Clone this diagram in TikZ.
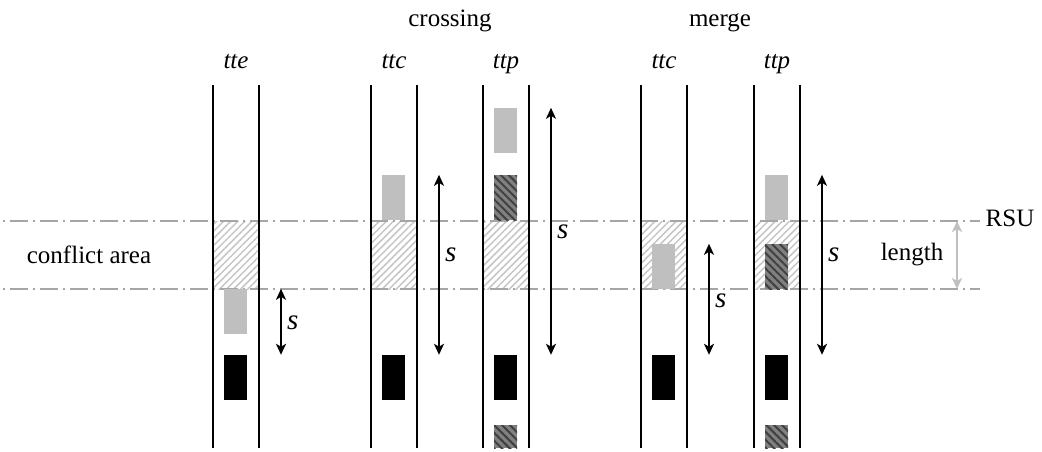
\documentclass[tikz,border=0pt]{standalone}
\usepackage{fontspec}
\setmainfont{Liberation Serif}
\usetikzlibrary{patterns.meta,arrows.meta}

\tikzset{
  txt/.style={font=\fontsize{25}{30}\selectfont, inner sep=0pt},
  slbl/.style={font=\fontsize{29}{34}\selectfont\itshape, inner sep=0pt, anchor=west},
  lane/.style={line width=2pt, black},
  refline/.style={line width=2pt, gray!70, dash pattern=on 18pt off 5pt on 2pt off 5pt, dash phase=20pt},
  zone/.style={pattern={Lines[angle=45,distance=5pt,line width=1.5pt]}, pattern color=gray!45},
  car/.style={rectangle, inner sep=0pt, minimum width=23pt, minimum height=45pt, draw=none},
  lightcar/.style={car, fill=gray!50},
  blackcar/.style={car, fill=black},
  darkcar/.style={car, preaction={fill=gray}, pattern={Lines[angle=-45,distance=5.5pt,line width=2pt]}, pattern color=black!75},
  stub/.style={darkcar, minimum height=23pt},
  gap/.style={<->, line width=2pt, >={Stealth[length=11pt,width=10pt,inset=3pt]}},
  lengap/.style={gap, gray!50},
}

\begin{document}
\begin{tikzpicture}[x=1pt,y=-1pt]
\useasboundingbox (0,0) rectangle (1042,452);

% conflict area hatching in every lane
\foreach \c in {236,394,506,664,777}
  \fill[zone] (\c-22,221) rectangle (\c+22,289);

% RSU reference lines bounding the conflict area
\draw[refline] (0,221) -- (980,221);
\draw[refline] (0,289) -- (980,289);

% lane borders
\foreach \c in {236,394,506,664,777} {
  \draw[lane] (\c-23,85) -- (\c-23,448);
  \draw[lane] (\c+23,85) -- (\c+23,448);
}

% ---- tte ----
\node[lightcar] (g1) at (235.5,311.5) {};
\node[blackcar] (k1) at (235.5,377.5) {};
\draw[gap] ([xshift=45.5pt]g1.north) -- ([xshift=45.5pt]k1.north);
\node[slbl] (s1) at (287,323) {s};

% ---- crossing, ttc ----
\node[lightcar] (g2) at (393.5,197.5) {};
\node[blackcar] (k2) at (393.5,377.5) {};
\draw[gap] ([xshift=45.5pt]g2.north) -- ([xshift=45.5pt]k2.north);
\node[slbl] (s2) at (445,255) {s};

% ---- crossing, ttp ----
\node[lightcar] (g3) at (505.5,130.5) {};
\node[darkcar] (d3) at (505.5,197.5) {};
\node[blackcar] (k3) at (505.5,377.5) {};
\node[stub] (e3) at (505.5,436.5) {};
\draw[gap] ([xshift=45.5pt]g3.north) -- ([xshift=45.5pt]k3.north);
\node[slbl] (s3) at (557,232) {s};

% ---- merge, ttc ----
\node[lightcar] (g4) at (663.5,266.5) {};
\node[blackcar] (k4) at (663.5,377.5) {};
\draw[gap] ([xshift=45.5pt]g4.north) -- ([xshift=45.5pt]k4.north);
\node[slbl] (s4) at (715,301) {s};

% ---- merge, ttp ----
\node[lightcar] (g5) at (776.5,197.5) {};
\node[darkcar] (d5) at (776.5,266.5) {};
\node[blackcar] (k5) at (776.5,377.5) {};
\node[stub] (e5) at (776.5,436.5) {};
\draw[gap] ([xshift=45.5pt]g5.north) -- ([xshift=45.5pt]k5.north);
\node[slbl] (s5) at (828,255) {s};

% conflict length marker
\coordinate (lt) at (957,221);
\coordinate (lb) at (957,289);
\draw[lengap] (lt) -- (lb);
\node[txt] (len) at (912,255) {length};
\node[txt] (rsu) at (1010,218) {RSU};
\node[txt] (ca) at (89,255) {conflict area};

% column headings
\node[txt, anchor=base] (h1) at (236,69) {\textit{tte}};
\node[txt, anchor=base] (h2) at (394,69) {\textit{ttc}};
\node[txt, anchor=base] (h3) at (506,69) {\textit{ttp}};
\node[txt, anchor=base] (h4) at (664,69) {\textit{ttc}};
\node[txt, anchor=base] (h5) at (777,69) {\textit{ttp}};
\node[txt, anchor=base] (cr) at (450,27) {crossing};
\node[txt, anchor=base] (mg) at (720,27) {merge};
\end{tikzpicture}
\end{document}
